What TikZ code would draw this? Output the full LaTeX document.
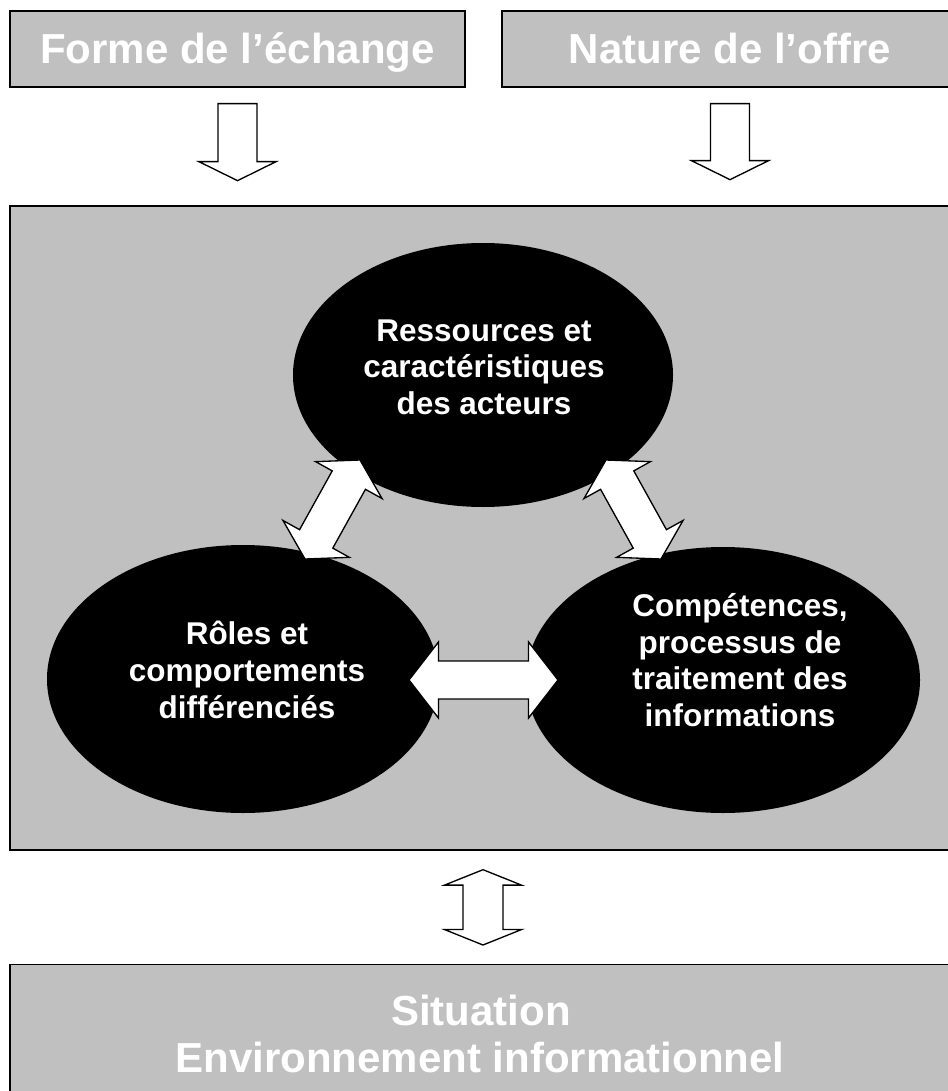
\documentclass[tikz,border=0pt]{standalone}
\usepackage{fontspec}
\setmainfont{Liberation Sans}
\usetikzlibrary{calc,shapes.geometric}
\definecolor{gris}{HTML}{C0C0C0}
% (head length : head half width : shaft half width)(tip or tail)(tip)
\def\flechedouble(#1:#2:#3)(#4)(#5){\draw[bloc] (#4)
    -- ($(#4)!#1!(#5)!#2!90:(#5)$) -- ($(#4)!#1!(#5)!#3!90:(#5)$)
    -- ($(#5)!#1!(#4)!#3!-90:(#4)$) -- ($(#5)!#1!(#4)!#2!-90:(#4)$)
    -- (#5)
    -- ($(#5)!#1!(#4)!#2!90:(#4)$) -- ($(#5)!#1!(#4)!#3!90:(#4)$)
    -- ($(#4)!#1!(#5)!#3!-90:(#5)$) -- ($(#4)!#1!(#5)!#2!-90:(#5)$)
    -- cycle;}
\def\flechesimple(#1:#2:#3)(#4)(#5){\draw[bloc] ($(#4)!#3!90:(#5)$)
    -- ($(#5)!#1!(#4)!#3!-90:(#4)$) -- ($(#5)!#1!(#4)!#2!-90:(#4)$)
    -- (#5)
    -- ($(#5)!#1!(#4)!#2!90:(#4)$) -- ($(#5)!#1!(#4)!#3!90:(#4)$)
    -- ($(#4)!#3!-90:(#5)$) -- cycle;}

\begin{document}
\begin{tikzpicture}[x=0.75pt,y=-0.75pt,
	cadre/.style={draw=black, line width=1pt, fill=gris, inner sep=0pt},
	titre/.style={text=white, text height=22.5pt, text depth=0pt, font=\bfseries\fontsize{31.5pt}{36pt}\selectfont},
	bulle/.style={ellipse, fill=black, inner sep=0pt},
	texte/.style={text=white, align=center, inner sep=0pt, font=\bfseries\fontsize{23.6pt}{27.5pt}\selectfont},
	bloc/.style={draw=black, line width=1pt, fill=white, line join=miter}]
		%%%%% START %%%%%
		\useasboundingbox (0,0) rectangle (948,1091);
		
		\node[cadre, titre, minimum width=341.25pt, minimum height=57pt] (forme) at (237.5,49) {Forme de l’échange};
		\node[cadre, titre, minimum width=342pt, minimum height=57pt] (nature) at (730,49) {Nature de l’offre};
		
		\node[cadre, minimum width=711pt, minimum height=483pt] (milieu) at (484,528) {};
		\node[cadre, minimum width=711pt, minimum height=105pt, anchor=north] (situation) at (484,964) {};
		\node[titre, text height=, anchor=base] (sit1) at (481,1025) {Situation};
		\node[titre, text height=, anchor=base] (sit2) at (480,1072) {Environnement informationnel};
		
		\node[bulle, minimum width=285pt, minimum height=198pt] (ress) at (483,375) {};
		\node[bulle, minimum width=294pt, minimum height=201pt] (roles) at (243,679) {};
		\node[bulle, minimum width=295.5pt, minimum height=199.5pt] (comp) at (723,680) {};
		
		\node[texte] (ress-t) at (484,367) {Ressources et\\caractéristiques\\des acteurs};
		\node[texte] (roles-t) at (247,670) {Rôles et\\comportements\\différenciés};
		\node[texte] (comp-t) at (740,660) {Compétences,\\processus de\\traitement des\\informations};
		
		% fleches
		\coordinate (f1) at ($(forme.south)+(0,16)$);
		\coordinate (f2) at ($(forme.south)+(0,93)$);
		\coordinate (n1) at ($(nature.south)+(0,16)$);
		\coordinate (n2) at ($(nature.south)+(0,92)$);
		\flechesimple(14.25pt:28.9pt:14.6pt)(f1)(f2)
		\flechesimple(14.25pt:28.9pt:14.6pt)(n1)(n2)
		
		\coordinate (g1) at (305,559);
		\coordinate (g2) at (360,460);
		\coordinate (d1) at (661,559);
		\coordinate (d2) at (606,460);
		\coordinate (h1) at (409,680);
		\coordinate (h2) at (558,680);
		\flechedouble(17.25pt:28.5pt:14.25pt)(g1)(g2)
		\flechedouble(17.25pt:28.5pt:14.25pt)(d1)(d2)
		\flechedouble(22.1pt:28.5pt:14.25pt)(h1)(h2)
		
		\coordinate (b1) at ($(milieu.south)+(-1,19)$);
		\coordinate (b2) at ($(situation.north)+(-1,-19)$);
		\flechedouble(11.6pt:28.9pt:15pt)(b1)(b2)
		%%%%% END %%%%%
\end{tikzpicture}
\end{document}
